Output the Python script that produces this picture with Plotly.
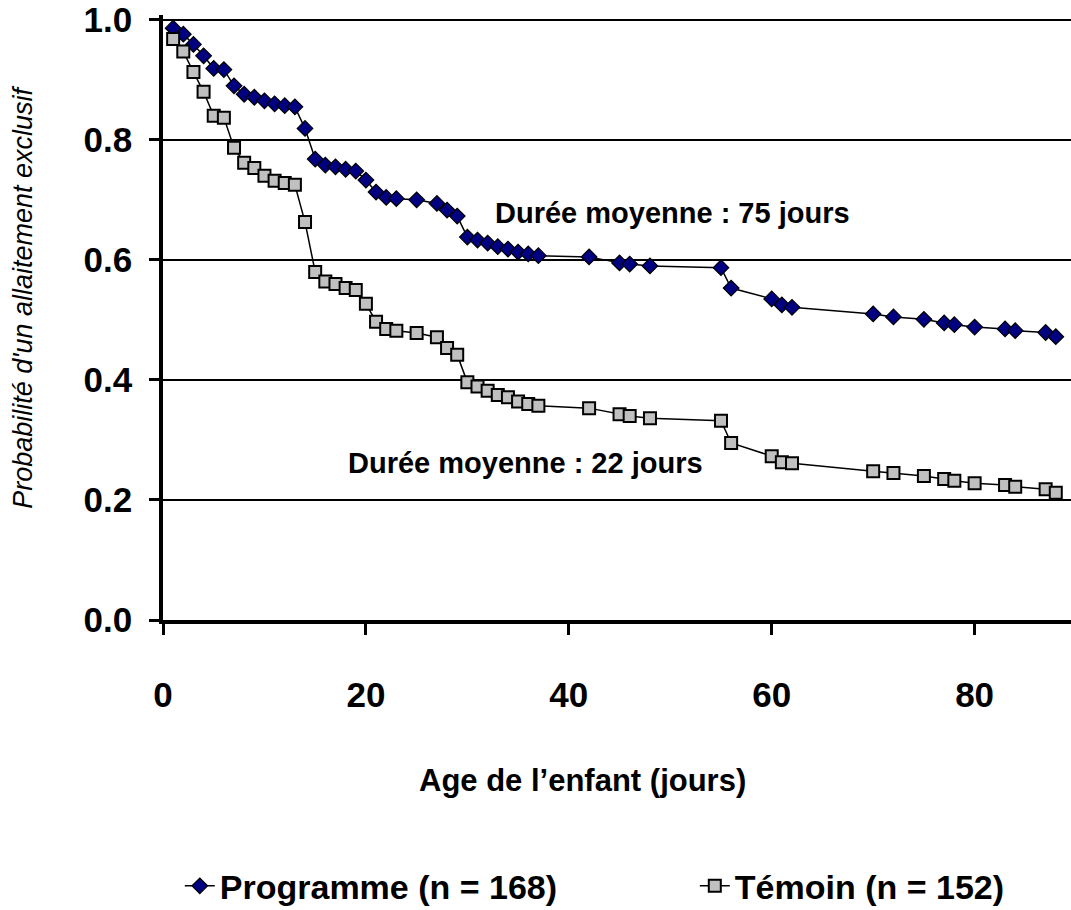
import plotly.graph_objects as go

# ---- data ----
days = [1, 2, 3, 4, 5, 6, 7, 8, 9, 10, 11, 12, 13, 14, 15, 16, 17, 18, 19, 20,
        21, 22, 23, 25, 27, 28, 29, 30, 31, 32, 33, 34, 35, 36, 37, 42, 45, 46,
        48, 55, 56, 60, 61, 62, 70, 72, 75, 77, 78, 80, 83, 84, 87, 88]

programme = [0.986, 0.976, 0.959, 0.940, 0.919, 0.917, 0.890, 0.876, 0.871, 0.865,
             0.860, 0.857, 0.855, 0.819, 0.768, 0.758, 0.755, 0.751, 0.748, 0.733,
             0.713, 0.704, 0.702, 0.700, 0.694, 0.683, 0.673, 0.638, 0.633, 0.628,
             0.622, 0.618, 0.613, 0.610, 0.607, 0.605, 0.595, 0.593, 0.590, 0.587,
             0.553, 0.535, 0.525, 0.521, 0.510, 0.505, 0.501, 0.495, 0.492, 0.488,
             0.485, 0.482, 0.479, 0.472]

temoin = [0.968, 0.947, 0.913, 0.880, 0.840, 0.837, 0.787, 0.762, 0.753, 0.740,
          0.732, 0.728, 0.725, 0.663, 0.580, 0.564, 0.560, 0.553, 0.550, 0.527,
          0.497, 0.485, 0.482, 0.478, 0.471, 0.453, 0.442, 0.396, 0.389, 0.382,
          0.375, 0.371, 0.364, 0.360, 0.357, 0.353, 0.343, 0.340, 0.336, 0.332,
          0.295, 0.273, 0.263, 0.261, 0.248, 0.245, 0.240, 0.235, 0.232, 0.228,
          0.225, 0.222, 0.218, 0.212]

series_names = ["Programme (n = 168)", "Témoin (n = 152)"]
x_ticks = [0, 20, 40, 60, 80]
y_ticks = [0.0, 0.2, 0.4, 0.6, 0.8, 1.0]
x_title = "Age de l’enfant (jours)"
y_title = "Probabilité d'un allaitement exclusif"
annotations_text = ["Durée moyenne : 75 jours", "Durée moyenne : 22 jours"]
annotations_pos = [(50.2, 0.678), (35.7, 0.262)]

FONT = "Liberation Sans, Arial, Helvetica, sans-serif"

fig = go.Figure()
fig.add_trace(go.Scatter(
    x=days, y=programme, name=series_names[0], mode="lines+markers",
    line=dict(color="black", width=1.5),
    marker=dict(symbol="diamond", size=12, color="#000080",
                line=dict(color="black", width=1.2)),
    cliponaxis=False, legendwidth=470,
))
fig.add_trace(go.Scatter(
    x=days, y=temoin, name=series_names[1], mode="lines+markers",
    line=dict(color="black", width=1.5),
    marker=dict(symbol="square", size=12, color="#C0C0C0",
                line=dict(color="black", width=2)),
    cliponaxis=False,
))

for txt, (ax, ay) in zip(annotations_text, annotations_pos):
    fig.add_annotation(x=ax, y=ay, text=txt, showarrow=False,
                       font=dict(family=FONT, size=29, color="black", weight="bold"),
                       xanchor="center", yanchor="middle")

# axis titles (placed as paper annotations to match the reference's positions)
fig.add_annotation(x=0.4615, y=-0.265, xref="paper", yref="paper", text=x_title,
                   showarrow=False, xanchor="center", yanchor="middle",
                   font=dict(family=FONT, size=31, color="black", weight="bold"))
fig.add_annotation(x=-0.155, y=0.533, xref="paper", yref="paper", text=y_title,
                   textangle=-90, showarrow=False, xanchor="center", yanchor="middle",
                   font=dict(family=FONT, size=27, color="black", style="italic"))

fig.update_layout(
    template="none",
    width=1071, height=910,
    margin=dict(l=163, r=0, t=15, b=290, autoexpand=False),
    paper_bgcolor="white", plot_bgcolor="white",
    font=dict(family=FONT, color="black"),
    showlegend=True,
    legend=dict(orientation="h", x=0.0185, xanchor="left", y=-0.44, yanchor="middle",
                font=dict(family=FONT, size=34, color="black", weight="bold"),
                bgcolor="rgba(0,0,0,0)", borderwidth=0),
    xaxis=dict(
        range=[0, 89.5], tickvals=x_ticks, ticks="outside", ticklen=11,
        tickwidth=2.5, tickcolor="black", showgrid=False, zeroline=False,
        showline=True, linecolor="black", linewidth=3.5,
        tickfont=dict(family=FONT, size=35, color="black", weight="bold"),
        ticklabelstandoff=30, automargin=False, ticklabeloverflow="allow",
    ),
    yaxis=dict(
        range=[0, 1.008], tickvals=y_ticks, tickformat=".1f", ticks="outside",
        ticklen=10, tickwidth=2.5, tickcolor="black",
        showgrid=True, gridcolor="black", gridwidth=2, zeroline=False,
        showline=True, linecolor="black", linewidth=3.5,
        tickfont=dict(family=FONT, size=35, color="black", weight="bold"),
        ticklabelstandoff=10, automargin=False, ticklabeloverflow="allow",
    ),
)

fig.write_html(
    "out.html",
    config={"displayModeBar": False},
    post_script="document.documentElement.style.overflow='hidden';"
                "document.body.style.margin='0';document.body.style.overflow='hidden';",
)
